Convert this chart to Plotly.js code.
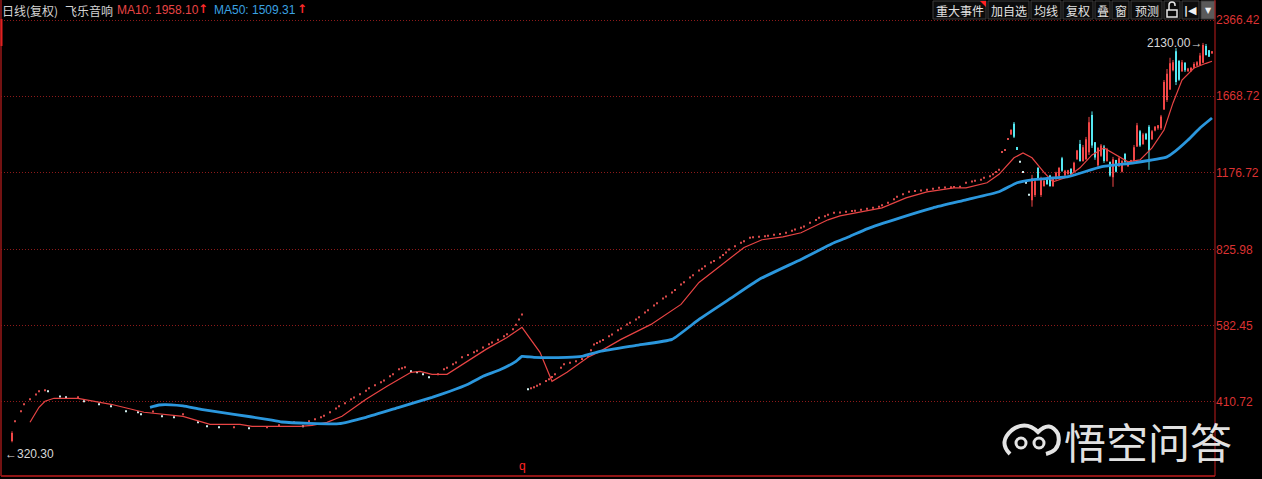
<!DOCTYPE html>
<html><head><meta charset="utf-8">
<script src="https://cdn.plot.ly/plotly-3.0.1.min.js"></script>
<style>html,body{margin:0;padding:0;background:#000;overflow:hidden}#chart{width:1262px;height:479px}</style>
</head><body><div id="chart"></div>
<script>
// ---------- data ----------
const stockName = '飞乐音响';
const chartKind = '日线(复权)';
const ma10Last = 1958.10;
const ma50Last = 1509.31;
const highLabel = 2130.00;
const lowLabel = 320.30;

const yTickVals = [410.72, 582.45, 825.98, 1176.72, 1668.72, 2366.42];
const yTickText = ['410.72', '582.45', '825.98', '1176.72', '1668.72', '2366.42'];

// small one-price bars (bar index, price)
const dotIdx = [4,6,7,9,11,12,14,15,19,21,25,27,32,36,41,45,46,50,53,57,60,65,68,72,77,82,88,92,97,100,
  102,104,106,107,109,111,112,114,116,117,119,121,122,124,126,127,129,130,132,133,134,136,138,140,142,145,147,148,150,151,153,155,157,158,160,162,163,165,167,168,170,171,172,173,
  175,176,177,178,179,181,182,183,184,186,187,189,191,193,195,196,197,198,199,
  200,202,203,205,206,208,209,211,212,214,215,217,218,220,221,223,224,226,227,229,230,232,233,234,236,237,239,240,241,242,244,246,247,249,250,252,254,255,257,259,261,263,264,266,267,269,271,272,274,275,277,279,281,283,284,286,288,290,292,293,295,297,298,300,302,304,306,308,310,312,314,316,317,319,321,323,324,326,327,329,330,331,332,333,334,335,339,340,341,342];
const dotPrice = [375.5,393.2,406,415.4,424.5,430.9,432.9,430.9,421,419.2,419.2,411.6,406,402.3,393.2,391.4,387.8,393,384.2,382.5,387.8,373.8,367,365.4,365.4,363.7,365.4,368.7,373.8,367,
  375.5,379,382.5,385,391.4,398,402.3,408,415.4,419,425.2,432,436.9,443,449.1,453,461.6,466,476.6,479,481,472.3,470.1,465.8,459.5,465.8,476.6,480,487.7,492,503.6,509,515.2,519,527.1,535,539.3,546,554.4,560,572.5,585,599.3,613.2,
  434.9,437,438.9,442,445,452,455.3,460,465.8,480,487.7,491,494.4,500,506,520,534.4,538,541.4,
  545,554.4,559,570,575,585.7,590,599.3,605,618.8,625,639,645,659.8,666,678.2,686,703.5,711,726.4,734,750,756,765,778,783,796.3,805,815,826,838,852,858,871.5,874,875.4,878,880,883.5,887,891.6,900,905,912.2,918,933.4,945,955,962,968,977.2,979,981.7,985,987,990.7,995,999.8,1005,1012,1022.8,1040,1051.4,1064,1076,1080,1083,1086,1091,1096,1098,1099,1100,1101,1121.5,1128,1132,1137,1147.5,1155,1166,1178,1190,1292,1304,1371,1234.6,1179,1121.5,1061];

// candles
const candleIdx = [3,336,337,338,
  343,344,345,346,347,348,349,350,351,352,353,354,355,356,357,358,359,360,361,362,363,364,365,366,367,368,369,370,
  371,372,373,374,375,376,377,378,379,380,381,382,383,384,385,386,387,388,389,390,391,392,393,394,395,396,397,398,399,400,401,402,403];
const candleOpen = [343,1400,1470,1322,
  1035,1060,1200,1060,1105,1140,1160,1105,1140,1155,1255,1160,1168,1195,1180,1250,1340,1240,1250,1290,1530,1350,1215,1270,1325,1240,1235,1150,
  1245,1210,1180,1280,1210,1230,1240,1325,1420,1340,1405,1450,1370,1425,1440,1440,1570,1640,1720,1880,2050,1960,1870,1945,1870,1875,1900,1920,1925,1945,2100,2060,2030];
const candleHigh = [358.7,1432,1482,1322,
  1163,1137,1206,1153,1137,1150,1163,1153,1180,1206,1263,1190,1190,1200,1235,1304,1365,1334,1384,1517,1556,1352,1322,1340,1334,1316,1235,1263,
  1246,1263,1246,1286,1235,1246,1334,1476,1429,1410,1410,1462,1429,1455,1462,1531,1797,1890,1990,1970,2080,1970,1970,1950,1900,1905,1950,1960,2035,2130,2120,2062,2052];
const candleLow = [341,1398,1377,1304,
  1005,1051,1137,1051,1101,1110,1101,1100,1137,1153,1179,1153,1163,1163,1179,1246,1235,1235,1246,1274,1316,1246,1206,1263,1229,1235,1153,1101,
  1176,1206,1176,1229,1206,1229,1235,1322,1322,1334,1365,1190,1365,1420,1430,1429,1567,1625,1717,1870,1756,1790,1865,1865,1865,1865,1895,1915,1920,1940,2010,2000,2028];
const candleClose = [356,1430,1385,1304,
  1145,1130,1140,1145,1132,1115,1105,1150,1175,1200,1185,1185,1188,1168,1230,1300,1240,1320,1370,1480,1330,1260,1315,1330,1240,1310,1160,1250,
  1180,1255,1240,1235,1230,1244,1320,1460,1330,1400,1370,1300,1420,1450,1460,1520,1780,1850,1940,1950,1780,1800,1950,1880,1895,1900,1935,1950,2010,2110,2015,2000,2050];

// moving averages (bar index, value)
const ma10Idx = [9,12,14,17,25,29,36,47,60,69,79,83,99,103,108,113,121,128,136,139,143,148,155,161,168,173,179,183,188,195,199,206,216,226,232,239,247,253,260,266,275,279,288,293,301,308,317,321,328,332,337,340,343,347,350,355,359,363,367,370,375,379,383,387,390,393,397,401,403];
const ma10 = [373.8,400.4,411.6,417.3,417.3,413.5,406,391.4,384.2,370.4,370.4,367,367,368.7,373.8,384.2,415.4,440.9,470.1,472.3,465.8,465.8,494.4,522.3,551.8,577.8,515.2,451.1,470.1,503.6,517.5,546.8,585.7,641.9,710,764,833.6,863.5,875.4,891.6,946.3,963.8,986.2,999.8,1046.5,1076,1096,1096,1121.5,1166,1257.5,1286,1257.5,1176.7,1126.6,1153,1201,1274.5,1316,1286,1234.6,1246,1316,1429,1617.6,1797,1899,1940,1958.10];
const ma50Idx = [49,52,56,60,66,77,88,93,102,112,121,132,143,149,155,160,166,171,173,177,188,193,199,211,223,232,242,252,266,277,282,288,299,310,321,332,338,343,355,366,377,388,390,395,399,403];
const ma50 = [400.4,404.7,405,403,396.8,387.8,379,374.3,372,371.5,382.5,400.4,419.2,431,445,461.6,476.6,494.4,505.9,503.6,503.6,506,517.5,532,546.8,599.3,656.8,719.8,789,851.7,875.4,908,955,999.8,1037,1076,1121.5,1137,1153,1206.5,1229,1263,1286,1365,1442,1509.31];

const buttonLabels = ['重大事件', '加自选', '均线', '复权', '叠', '窗', '预测'];
const watermark = '悟空问答';

// ---------- build ----------
const W = 1262, H = 479, ML = 1, MR = 47, MT = 0, MB = 3;
const PW = W - ML - MR, PH = H - MT - MB;
const px = p => (p - ML) / PW;        // page px -> paper x
const py = p => 1 - (p - MT) / PH;    // page px -> paper y

const UP = '#f04646', DN = '#54e8f2';

function segTrace(list, lo, hi, color, width) {
  const x = [], y = [];
  list.forEach(k => { x.push(candleIdx[k], candleIdx[k], null); y.push(lo[k], hi[k], null); });
  return {type: 'scatter', mode: 'lines', x, y, line: {color, width}, hoverinfo: 'skip', showlegend: false};
}
const upList = [], dnList = [];
candleIdx.forEach((_, k) => (candleClose[k] >= candleOpen[k] ? upList : dnList).push(k));

const dotColors = dotPrice.map((p, k) => (k === 0 || p >= dotPrice[k - 1]) ? '#d84a4a' : '#cfeeee');

const traces = [
  {type: 'scatter', mode: 'markers', x: dotIdx, y: dotPrice,
   marker: {symbol: 'square', size: 2, color: dotColors, line: {width: 0}}, hoverinfo: 'skip', showlegend: false},
  segTrace(upList, candleLow, candleHigh, UP, 1),
  segTrace(dnList, candleLow, candleHigh, DN, 1),
  segTrace(upList, candleOpen, candleClose, UP, 2),
  segTrace(dnList, candleOpen, candleClose, DN, 2),
  {type: 'scatter', mode: 'lines', x: ma10Idx, y: ma10, line: {color: '#e84444', width: 1.2}, hoverinfo: 'skip', showlegend: false},
  {type: 'scatter', mode: 'lines', x: ma50Idx, y: ma50, line: {color: '#2b97dd', width: 2.8, shape: 'spline', smoothing: 0.4}, hoverinfo: 'skip', showlegend: false}
];

const latin = 'Liberation Sans, Arial, sans-serif';
const cjk = 'Noto Sans CJK SC, sans-serif';
const ann = [];
function txt(text, xp, yp, color, size, family, anchor, extra) {
  ann.push(Object.assign({xref: 'paper', yref: 'paper', x: px(xp), y: py(yp), text, showarrow: false,
    xanchor: anchor || 'left', yanchor: 'middle', font: {color, size, family}}, extra || {}));
}
// header
txt(chartKind, 0, 10, '#d4d4d4', 12, cjk);
txt(stockName, 63, 10, '#d4d4d4', 12, cjk);
txt('MA10: ' + ma10Last.toFixed(2), 115, 10, '#e84444', 12, latin);
txt('<b>↑</b>', 196, 9, '#ff2a2a', 12, 'DejaVu Sans');
txt('MA50: ' + ma50Last.toFixed(2), 212, 10, '#3aa2e2', 12, latin);
txt('<b>↑</b>', 295, 9, '#ff2a2a', 12, 'DejaVu Sans');

// buttons
const shapes = [];
const btnBoxes = [[933, 986], [988, 1029], [1031, 1061], [1063, 1093], [1095, 1110], [1112, 1129], [1131, 1162], [1164, 1180], [1182, 1199], [1201, 1215]];
btnBoxes.forEach((b, k) => {
  shapes.push({type: 'rect', xref: 'paper', yref: 'paper', x0: px(b[0]), x1: px(b[1]), y0: py(19), y1: py(1),
    line: {color: '#3c3c3c', width: 1}, fillcolor: k === 9 ? '#5a5a5a' : '#0c0c0c', layer: 'above'});
  if (k < buttonLabels.length) txt(buttonLabels[k], (b[0] + b[1]) / 2, 10, '#e2e2e2', 12, cjk, 'center');
});
shapes.push({type: 'path', xref: 'paper', yref: 'paper', layer: 'above',
  path: `M${px(980)},${py(1)} L${px(986)},${py(1)} L${px(986)},${py(7)} Z`, fillcolor: '#ff2020', line: {width: 0}});
shapes.push({type: 'rect', xref: 'paper', yref: 'paper', x0: px(1167), x1: px(1177), y0: py(17), y1: py(10), line: {color: '#e6e6e6', width: 1.5}, layer: 'above'});
shapes.push({type: 'path', xref: 'paper', yref: 'paper', layer: 'above',
  path: `M${px(1169)},${py(10)} L${px(1169)},${py(5)} Q${px(1169)},${py(2)} ${px(1172)},${py(2)} Q${px(1175)},${py(2)} ${px(1175)},${py(5)} L${px(1175)},${py(6)}`,
  line: {color: '#e6e6e6', width: 1.5}});
txt('<b>|◀</b>', 1190.5, 10, '#f2f2f2', 11, 'DejaVu Sans', 'center');
txt('▼', 1208, 10, '#f2f2f2', 8, 'DejaVu Sans', 'center');

// frame
shapes.push({type: 'line', xref: 'paper', yref: 'paper', x0: 1, x1: 1, y0: 0, y1: 1, line: {color: '#c01c1c', width: 1}, layer: 'above'});
shapes.push({type: 'line', xref: 'paper', yref: 'paper', x0: 0, x1: 1, y0: 0, y1: 0, line: {color: '#c01c1c', width: 1.5}, layer: 'above'});
shapes.push({type: 'line', xref: 'paper', yref: 'paper', x0: px(1), x1: px(1), y0: 0, y1: 1, line: {color: '#9a1818', width: 1.5}, layer: 'above'});
shapes.push({type: 'line', xref: 'paper', yref: 'paper', x0: px(1.5), x1: px(1.5), y0: py(46), y1: py(19), line: {color: '#e02020', width: 2}, layer: 'above'});

// price labels
ann.push({xref: 'x', yref: 'y', x: 0, y: Math.log10(lowLabel), text: '←' + lowLabel.toFixed(2), showarrow: false,
  xanchor: 'left', yanchor: 'middle', yshift: 2, font: {color: '#d8d8d8', size: 12, family: latin + ', DejaVu Sans'}});
ann.push({xref: 'x', yref: 'y', x: 400, y: Math.log10(highLabel), text: highLabel.toFixed(2) + '→', showarrow: false,
  xanchor: 'right', yanchor: 'middle', xshift: 1, font: {color: '#d8d8d8', size: 12, family: latin + ', DejaVu Sans'}});
ann.push({xref: 'x', yref: 'paper', x: 173, y: py(466), text: 'q', showarrow: false, xanchor: 'center', yanchor: 'middle',
  font: {color: '#ff2424', size: 12, family: latin}});

// watermark
const wm = 'rgba(240,240,240,0.95)';
txt(watermark, 1062, 440, wm, 42, cjk);
shapes.push({type: 'path', xref: 'paper', yref: 'paper', layer: 'above',
  path: `M${px(1010)},${py(454)} Q${px(998)},${py(442)} ${px(1012)},${py(430)} Q${px(1026)},${py(420)} ${px(1038)},${py(432)} Q${px(1050)},${py(420)} ${px(1058)},${py(434)} Q${px(1062)},${py(450)} ${px(1046)},${py(454)}`,
  line: {color: wm, width: 4}});
shapes.push({type: 'circle', xref: 'paper', yref: 'paper', layer: 'above', x0: px(1016), x1: px(1026), y0: py(448), y1: py(438), line: {color: wm, width: 3}});
shapes.push({type: 'circle', xref: 'paper', yref: 'paper', layer: 'above', x0: px(1034), x1: px(1044), y0: py(448), y1: py(438), line: {color: wm, width: 3}});

const logTop = Math.log10(2366.42) + (20 / 218) / Math.LN10;
const logBot = Math.log10(2366.42) - (456 / 218) / Math.LN10;

const layout = {
  width: W, height: H,
  margin: {l: ML, r: MR, t: MT, b: MB, pad: 0},
  paper_bgcolor: '#000', plot_bgcolor: '#000',
  showlegend: false,
  xaxis: {range: [(1 - 3) / 3, (1 - 3) / 3 + PW / 3], showgrid: false, zeroline: false, showticklabels: false, ticks: '', showline: false, fixedrange: true},
  yaxis: {type: 'log', range: [logBot, logTop], side: 'right', tickmode: 'array', tickvals: yTickVals, ticktext: yTickText,
    tickfont: {color: '#dc3232', size: 12, family: latin}, ticks: '', showgrid: true, gridcolor: '#8e1a1a', griddash: '1px,2px', gridwidth: 1,
    zeroline: false, showline: false, fixedrange: true},
  shapes, annotations: ann
};
Plotly.newPlot('chart', traces, layout, {staticPlot: true, displayModeBar: false});
</script>
</body></html>
